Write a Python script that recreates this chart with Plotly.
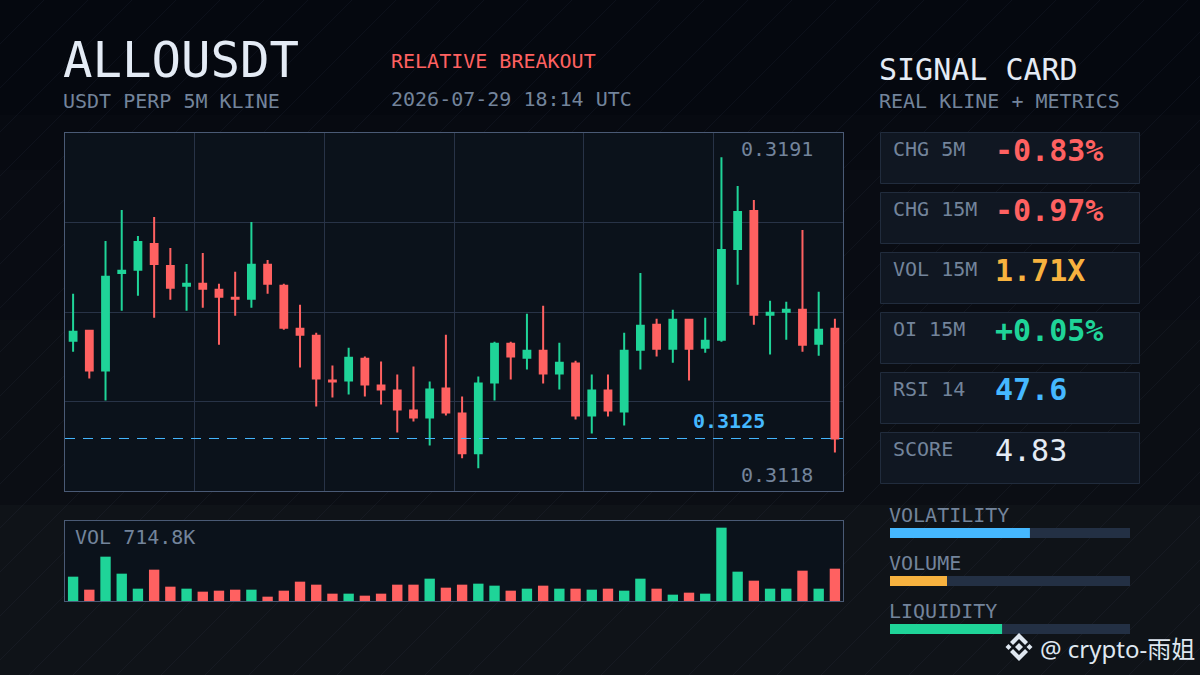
import plotly.graph_objects as go

W, H = 1200, 675

# candle data
opens = [0.314795, 0.315029, 0.314093, 0.316386, 0.316457, 0.317065, 0.316550, 0.316082,
         0.316129, 0.315989, 0.315801, 0.315778, 0.316574, 0.316082, 0.315076, 0.314912,
         0.313859, 0.313859, 0.314374, 0.313742, 0.313625, 0.313157, 0.312993, 0.313672,
         0.313087, 0.312151, 0.313812, 0.314725, 0.314397, 0.314561, 0.314023, 0.314257,
         0.313040, 0.313625, 0.313134, 0.314585, 0.315170, 0.314608, 0.315287, 0.314631,
         0.314819, 0.316948, 0.317837, 0.315404, 0.315474, 0.315521, 0.314725, 0.315076]
highs = [0.315895, 0.315053, 0.317135, 0.317861, 0.317252, 0.317697, 0.316971, 0.316597,
         0.316854, 0.316129, 0.316410, 0.317580, 0.316691, 0.316129, 0.315638, 0.314982,
         0.314210, 0.314631, 0.314421, 0.314304, 0.314000, 0.314187, 0.313836, 0.314936,
         0.313485, 0.313953, 0.314772, 0.314772, 0.315427, 0.315614, 0.314748, 0.314327,
         0.314000, 0.314000, 0.314982, 0.316386, 0.315310, 0.315521, 0.315310, 0.315333,
         0.319101, 0.318422, 0.318095, 0.315731, 0.315708, 0.317393, 0.315942, 0.315310]
lows = [0.314538, 0.313906, 0.313391, 0.315497, 0.315848, 0.315333, 0.315755, 0.315497,
        0.315567, 0.314702, 0.315380, 0.315567, 0.315895, 0.315053, 0.314163, 0.313251,
        0.313461, 0.313532, 0.313485, 0.313298, 0.312642, 0.312900, 0.312338, 0.313040,
        0.312034, 0.311800, 0.313391, 0.313883, 0.314117, 0.313789, 0.313649, 0.312947,
        0.312619, 0.313017, 0.312806, 0.314117, 0.314421, 0.314280, 0.313859, 0.314514,
        0.314772, 0.316106, 0.315170, 0.314468, 0.314819, 0.314538, 0.314444, 0.312174]
closes = [0.315006, 0.314093, 0.316293, 0.316433, 0.317112, 0.316597, 0.316035, 0.316129,
          0.316012, 0.315825, 0.315778, 0.316574, 0.316129, 0.315099, 0.314936, 0.313906,
          0.313836, 0.314397, 0.313766, 0.313649, 0.313181, 0.312993, 0.313649, 0.313110,
          0.312151, 0.313789, 0.314725, 0.314421, 0.314561, 0.314023, 0.314280, 0.313040,
          0.313625, 0.313157, 0.314561, 0.315146, 0.314608, 0.315287, 0.314608, 0.314795,
          0.316925, 0.317814, 0.315404, 0.315450, 0.315521, 0.314702, 0.315053, 0.312502]

# volume per candle, in thousands
volumes = [237.2, 110.5, 432.1, 266.4, 120.2, 305.4, 139.7, 120.2,
           91.0, 100.7, 110.5, 110.5, 42.2, 100.7, 188.4, 159.2,
           71.5, 71.5, 52.0, 71.5, 159.2, 159.2, 217.7, 130.0,
           159.2, 168.9, 149.5, 100.7, 120.2, 149.5, 120.2, 120.2,
           110.5, 120.2, 100.7, 217.7, 120.2, 61.7, 81.2, 71.5,
           714.8, 285.9, 198.2, 120.2, 120.2, 295.7, 120.2, 315.2]

last_price = 0.3125
high_label = "0.3191"
low_label = "0.3118"
vol_label = "VOL 714.8K"

card_labels = ["CHG 5M", "CHG 15M", "VOL 15M", "OI 15M", "RSI 14", "SCORE"]
card_values = ["-0.83%", "-0.97%", "1.71X", "+0.05%", "47.6", "4.83"]

meter_labels = ["VOLATILITY", "VOLUME", "LIQUIDITY"]
meter_values = [0.583, 0.2375, 0.467]

GREEN = "#1fd498"
RED = "#ff6161"
BLUE = "#45b8ff"
ORANGE = "#f7b23f"
LIGHT = "#e4ebf5"
MUTED = "#73849b"
PANEL = "#0b121b"
BORDER = "#4a5a75"
GRID = "#283347"
CARD_BG = "#101722"
CARD_BORDER = "#212c3d"
TRACK = "#233044"
MONO = "DejaVu Sans Mono, monospace"

card_colors = [RED, RED, ORANGE, GREEN, BLUE, LIGHT]
card_weights = ["bold", "bold", "bold", "bold", "bold", "normal"]
meter_colors = [BLUE, ORANGE, GREEN]


def px(x):
    return x / W


def py(y):
    return 1 - y / H


def rect(x0, y0, x1, y1, fill, line=None):
    return dict(type="rect", xref="paper", yref="paper", layer="below",
                x0=px(x0), x1=px(x1), y0=py(y0), y1=py(y1), fillcolor=fill,
                line=dict(color=line, width=1) if line else dict(width=0))


def poly(points, fill):
    d = "M" + "L".join(f"{px(x):.5f},{py(y):.5f}" for x, y in points) + "Z"
    return dict(type="path", xref="paper", yref="paper", path=d, fillcolor=fill, line=dict(width=0))


def label(x, y, text, size, color, anchor="left", family=MONO, weight="normal"):
    return dict(xref="paper", yref="paper", x=px(x), y=py(y), text=text, showarrow=False,
                xanchor=anchor, yanchor="middle", borderpad=0,
                font=dict(family=family, size=size, color=color, weight=weight))


shapes = []
annotations = []

# background bands, the picture steps through these from top to bottom
for y0, y1, c in [(0, 115, "#05080f"), (115, 170, "#070a11"), (170, 320, "#090c13"),
                  (320, 505, "#0b0e14"), (505, 675, "#0f1318")]:
    shapes.append(rect(0, y0, W, y1, c))
for c in range(44, 1900, 44):
    shapes.append(dict(type="line", xref="paper", yref="paper", layer="below",
                       x0=px(c), y0=py(0), x1=px(c - H), y1=py(H),
                       line=dict(color="rgba(130,160,200,0.06)", width=1)))

# chart panels
shapes.append(rect(65, 133, 843, 491, PANEL))
shapes.append(rect(65, 521, 843, 601, PANEL))

# signal cards
for i, (name, value) in enumerate(zip(card_labels, card_values)):
    top = 132.5 + 60 * i
    shapes.append(rect(880.5, top, 1139.5, top + 51, CARD_BG, CARD_BORDER))
    annotations.append(label(892, top + 16.5, name, 20, MUTED))
    annotations.append(label(993.5, top + 17.5, value, 30, card_colors[i], weight=card_weights[i]))

for i, name in enumerate(meter_labels):
    annotations.append(label(888, 515 + 48 * i, name, 20, MUTED))

# header text
annotations += [
    label(62, 60, "ALLOUSDT", 49, LIGHT),
    label(62, 101, "USDT PERP 5M KLINE", 20, MUTED),
    label(390, 61, "RELATIVE BREAKOUT", 20, RED),
    label(390, 99, "2026-07-29 18:14 UTC", 20, MUTED),
    label(878, 69, "SIGNAL CARD", 30, LIGHT),
    label(878, 101, "REAL KLINE + METRICS", 20, MUTED),
    label(740, 149, high_label, 20, MUTED),
    label(740, 475, low_label, 20, MUTED),
    label(692, 421, f"{last_price:.4f}", 20, BLUE, weight="bold"),
    label(74, 537, vol_label, 20, MUTED),
    label(1039, 648, "@ crypto-雨姐", 24, "#dfe7f0", family="Noto Sans, Noto Sans CJK SC"),
]

# last price line
shapes.append(dict(type="line", xref="paper", yref="y", x0=px(65), x1=px(843),
                   y0=last_price, y1=last_price,
                   line=dict(color=BLUE, width=1, dash="10px,8px")))

# binance style mark next to the watermark
LOGO = "#dfe7f0"
for cx, cy, r in [(1019, 647, 4), (1008.5, 647, 3), (1029.5, 647, 3)]:
    shapes.append(poly([(cx - r, cy), (cx, cy - r), (cx + r, cy), (cx, cy + r)], LOGO))
shapes.append(poly([(1019, 633), (1028, 642), (1025, 645), (1019, 639), (1013, 645), (1010, 642)], LOGO))
shapes.append(poly([(1019, 661), (1028, 652), (1025, 649), (1019, 655), (1013, 649), (1010, 652)], LOGO))

idx = list(range(len(opens)))
vol_colors = [GREEN if c >= o else RED for o, c in zip(opens, closes)]

fig = go.Figure()

fig.add_trace(go.Candlestick(
    x=idx, open=opens, high=highs, low=lows, close=closes, xaxis="x", yaxis="y",
    increasing=dict(line=dict(color=GREEN, width=2), fillcolor=GREEN),
    decreasing=dict(line=dict(color=RED, width=2), fillcolor=RED),
    showlegend=False, name="ALLOUSDT",
))
fig.add_trace(go.Bar(x=idx, y=volumes, width=0.64, marker=dict(color=vol_colors, line=dict(width=0)),
                     xaxis="x2", yaxis="y2", showlegend=False, name="VOL"))

# meters: a full track with the filled part on top
fig.add_trace(go.Bar(y=meter_labels, x=[1] * len(meter_labels), orientation="h", width=0.208,
                     marker=dict(color=TRACK, line=dict(width=0)), xaxis="x3", yaxis="y3",
                     showlegend=False, hoverinfo="skip"))
fig.add_trace(go.Bar(y=meter_labels, x=meter_values, orientation="h", width=0.208,
                     marker=dict(color=meter_colors, line=dict(width=0)), xaxis="x3", yaxis="y3",
                     showlegend=False))

hidden = dict(visible=False, fixedrange=True)
fig.update_layout(
    width=W, height=H, margin=dict(l=0, r=0, t=0, b=0), autosize=False,
    paper_bgcolor="#05080f", plot_bgcolor="rgba(0,0,0,0)",
    barmode="overlay", boxgap=0.4, boxgroupgap=0.3, showlegend=False,
    shapes=shapes, annotations=annotations,
    xaxis=dict(domain=[px(65), px(843)], range=[-0.5, 47.5], tick0=-0.5, dtick=8,
               showticklabels=False, ticks="", showgrid=True, gridcolor=GRID, gridwidth=1,
               zeroline=False, showline=True, mirror=True, linecolor=BORDER, linewidth=1,
               rangeslider=dict(visible=False), anchor="y"),
    yaxis=dict(domain=[py(491), py(133)], range=[0.311268, 0.319668], tick0=0.311268, dtick=0.0021,
               showticklabels=False, ticks="", showgrid=True, gridcolor=GRID, gridwidth=1,
               zeroline=False, showline=True, mirror=True, linecolor=BORDER, linewidth=1, anchor="x"),
    xaxis2=dict(domain=[px(65), px(843)], range=[-0.5, 47.5], showticklabels=False, ticks="",
                showgrid=False, zeroline=False, showline=True, mirror=True, linecolor=BORDER,
                linewidth=1, anchor="y2"),
    yaxis2=dict(domain=[py(601), py(521)], range=[0, 779.8], showticklabels=False, ticks="",
                showgrid=False, zeroline=False, showline=True, mirror=True, linecolor=BORDER,
                linewidth=1, anchor="x2"),
    xaxis3=dict(domain=[px(890), px(1130)], range=[0, 1], anchor="y3", **hidden),
    yaxis3=dict(domain=[py(653), py(509)], autorange="reversed", anchor="x3", **hidden),
)

fig.write_html("out.html", config=dict(displayModeBar=False),
               post_script="document.body.style.margin='0';")
